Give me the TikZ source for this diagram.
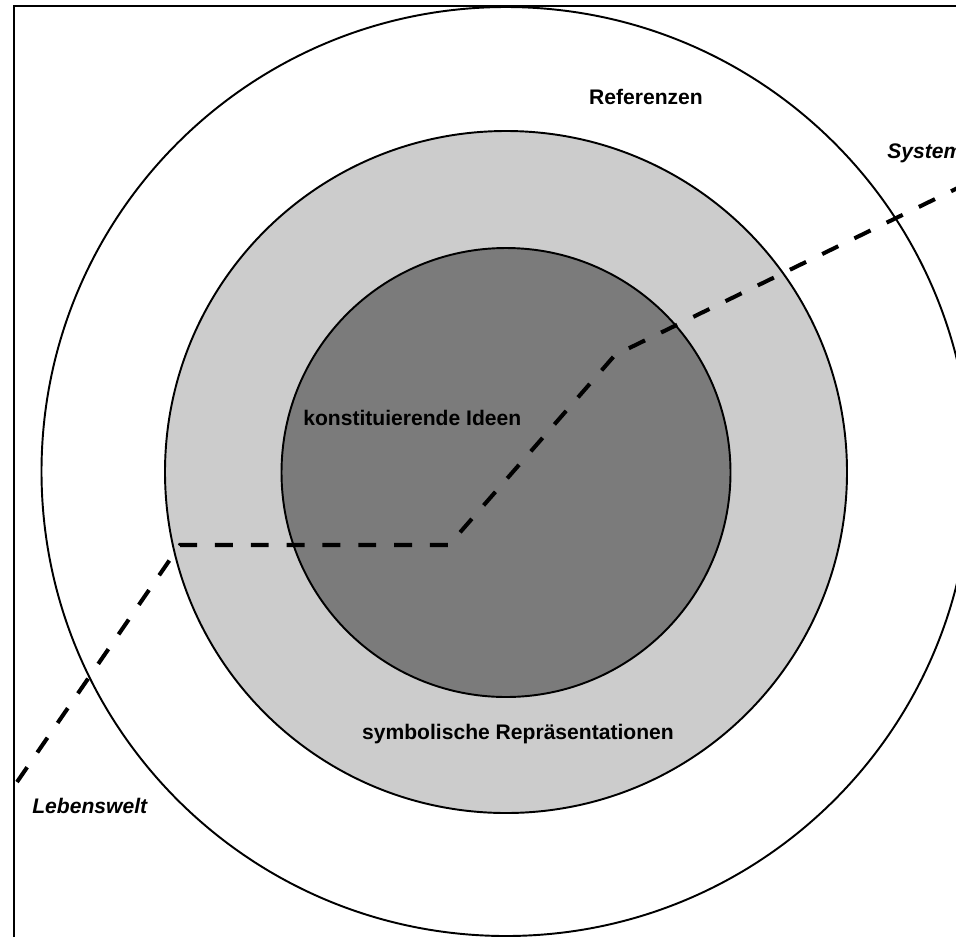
\documentclass[tikz,border=0pt]{standalone}
\usepackage{fontspec}
\setmainfont{Liberation Sans}
\usepackage{xcolor}
\definecolor{ringgray}{RGB}{204,204,204}
\definecolor{coregray}{RGB}{123,123,123}

\begin{document}
\begin{tikzpicture}[
    x=0.02cm, y=-0.02cm,
    ring/.style={draw, line width=1.1pt},
    border/.style={line width=1.4pt},
    divide/.style={line width=2.3pt, dash pattern=on 10.2pt off 10.2pt},
    label/.style={font=\fontsize{12}{14}\selectfont\bfseries, inner sep=0pt},
    world/.style={label, font=\fontsize{12}{14}\selectfont\bfseries\itshape}
]
\useasboundingbox (0,0) rectangle (956,937);

% Frame (only left and top edge visible)
\draw[border] (14,937) -- (14,6) -- (956,6);

% Three nested circles
\draw[ring, fill=white] (506,471.5) circle[radius=464.5];
\draw[ring, fill=ringgray] (506,472) circle[radius=341];
\draw[ring, fill=coregray] (506,472.5) circle[radius=224.5];

% Dividing line
\coordinate (start) at (17,782);
\coordinate (bend1) at (180,545);
\coordinate (bend2) at (449,545);
\coordinate (bend3) at (615,355);
\coordinate (stop) at (970,182);
\draw[divide] (start) -- (bend1) -- (bend2) -- (bend3) -- (stop);

% Labels
\node[label, anchor=base] (ref) at (646,104) {Referenzen};
\node[label, anchor=base west] (ideen) at (303,425) {konstituierende Ideen};
\node[label, anchor=base] (symb) at (518,739) {symbolische Repräsentationen};
\node[world, anchor=base west] (sys) at (887,158) {System};
\node[world, anchor=base west] (leb) at (32,813) {Lebenswelt};

\end{tikzpicture}
\end{document}
